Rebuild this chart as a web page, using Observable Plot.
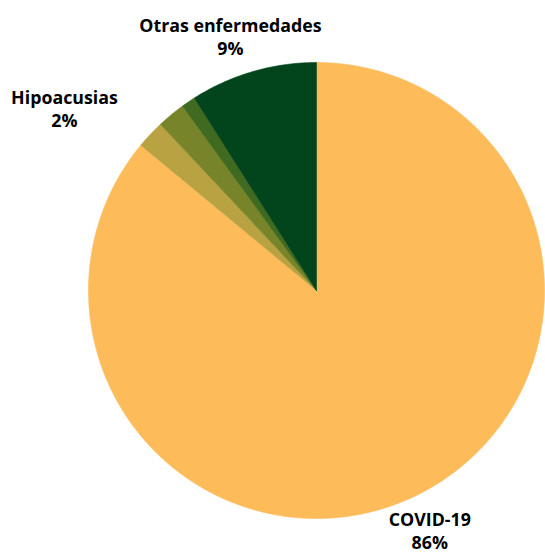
<!DOCTYPE html>
<html><head><meta charset="utf-8">
<script src="https://cdn.jsdelivr.net/npm/d3@7"></script>
<script src="https://cdn.jsdelivr.net/npm/@observablehq/plot@0.6"></script>
<style>html,body{margin:0;padding:0;background:#fff}</style>
</head><body><div id="chart"></div>
<script>
// ---- data ----
const categories = ["COVID-19", "Hipoacusias", "Categoría 3", "Categoría 4", "Otras enfermedades"];
const values = [86, 2, 2, 1, 9];
const shownLabels = ["COVID-19", "Hipoacusias", "Otras enfermedades"];

// ---- style / layout ----
const colors = ["#FDBB5A", "#B9A241", "#78842A", "#3F6A1F", "#02441B"];
const W = 545, H = 553, CX = 316, CY = 290, R = 228;
const labelLayout = {
  "COVID-19": {r: 1.167, dx: 0, dy: -1},
  "Hipoacusias": {r: 1.366, dx: -25, dy: 31},
  "Otras enfermedades": {r: 1.18, dx: -11, dy: 4}
};

const total = d3.sum(values);
let acc = 0;
const slices = categories.map((name, i) => {
  const a0 = acc / total * 2 * Math.PI;
  acc += values[i];
  const a1 = acc / total * 2 * Math.PI;
  return {name, value: values[i], a0, a1, pct: Math.round(values[i] / total * 100)};
});

// polygon points for each slice (angles clockwise from north)
const pts = [];
for (const s of slices) {
  pts.push({name: s.name, x: 0, y: 0});
  const n = Math.max(2, Math.ceil((s.a1 - s.a0) / (Math.PI / 360)));
  for (let k = 0; k <= n; k++) {
    const a = s.a0 + (s.a1 - s.a0) * k / n;
    pts.push({name: s.name, x: Math.sin(a), y: Math.cos(a)});
  }
  pts.push({name: s.name, x: 0, y: 0});
}

const labels = slices.filter(s => shownLabels.includes(s.name)).map(s => {
  const L = labelLayout[s.name];
  const m = (s.a0 + s.a1) / 2;
  return {
    text: `${s.name}\n${s.pct}%`,
    x: L.r * Math.sin(m) + L.dx / R,
    y: L.r * Math.cos(m) - L.dy / R
  };
});

const chart = Plot.plot({
  width: W, height: H,
  margin: 0,
  x: {domain: [-CX / R, (W - CX) / R], range: [0, W], axis: null},
  y: {domain: [-(H - CY) / R, CY / R], range: [H, 0], axis: null},
  color: {domain: categories, range: colors},
  style: {fontFamily: "'Open Sans', sans-serif", background: "#fff"},
  marks: [
    Plot.line(pts, {x: "x", y: "y", z: "name", fill: "name", stroke: "name", strokeWidth: 0.6, curve: "linear"}),
    Plot.text(labels, {x: "x", y: "y", text: "text", fontSize: 17.8, fontWeight: 700, fill: "#000", lineHeight: 1.29, textAnchor: "middle", lineAnchor: "middle"})
  ]
});
document.getElementById("chart").appendChild(chart);
</script>
</body></html>
